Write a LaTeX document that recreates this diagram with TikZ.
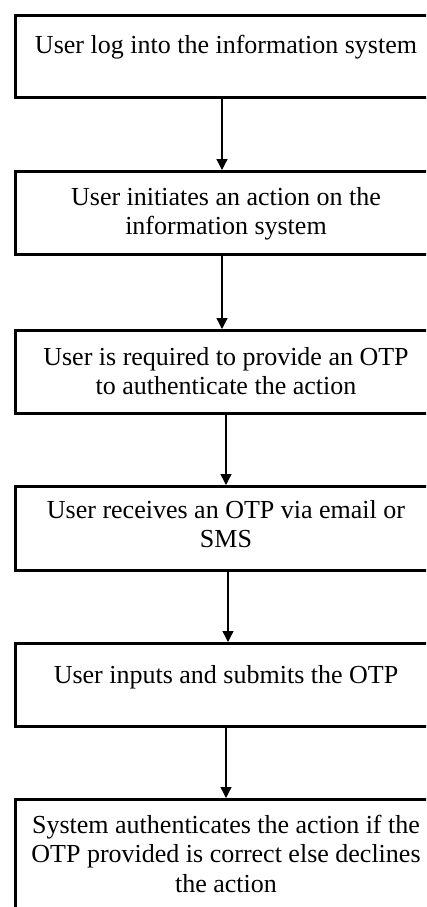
\documentclass[tikz,border=0pt]{standalone}
\usepackage{fontspec}
\setmainfont{Liberation Serif}
\usetikzlibrary{arrows.meta}
\begin{document}
\begin{tikzpicture}[x=1pt,y=-1pt,
  stepbox/.style={draw=black, line width=3pt, rectangle, minimum width=421pt, inner sep=0pt},
  steptext/.style={anchor=north, align=center, inner sep=0pt,
    font=\fontsize{26}{29.5}\selectfont},
  flow/.style={line width=1.3pt, -{Triangle[width=11pt,length=11pt]}}]
\useasboundingbox (0,0) rectangle (426,907);
\fill[white] (0,0) rectangle (426,907);
\clip (0,0) rectangle (426,907);

% boxes (they run past the right edge of the page)
\node[stepbox, minimum height=82pt]  (b1) at (226,56.5) {};
\node[stepbox, minimum height=83pt]  (b2) at (226,213) {};
\node[stepbox, minimum height=83pt]  (b3) at (226,372) {};
\node[stepbox, minimum height=84pt]  (b4) at (226,528.5) {};
\node[stepbox, minimum height=83pt]  (b5) at (226,685) {};
\node[stepbox, minimum height=129pt] (b6) at (226,864) {};

% step texts
\node[steptext, yshift=-18.3pt] (t1) at (b1.north) {\strut User log into the information system};
\node[steptext, yshift=-14.3pt] (t2) at (b2.north) {\strut User initiates an action on the\\ information system};
\node[steptext, yshift=-15.3pt] (t3) at (b3.north) {\strut User is required to provide an OTP\\ to authenticate the action};
\node[steptext, yshift=-12.3pt] (t4) at (b4.north) {\strut User receives an OTP via email or\\ SMS};
\node[steptext, yshift=-20.3pt] (t5) at (b5.north) {\strut User inputs and submits the OTP};
\node[steptext, yshift=-14.3pt] (t6) at (b6.north) {\strut System authenticates the action if the\\ OTP provided is correct else declines\\ the action};

% connectors
\draw[flow] ([xshift=-4pt]b1.south) -- ([xshift=-4pt]b2.north);
\draw[flow] ([xshift=-4pt]b2.south) -- ([xshift=-4pt]b3.north);
\draw[flow] (b3.south) -- (b4.north);
\draw[flow] ([xshift=2pt]b4.south) -- ([xshift=2pt]b5.north);
\draw[flow] (b5.south) -- (b6.north);
\end{tikzpicture}
\end{document}
